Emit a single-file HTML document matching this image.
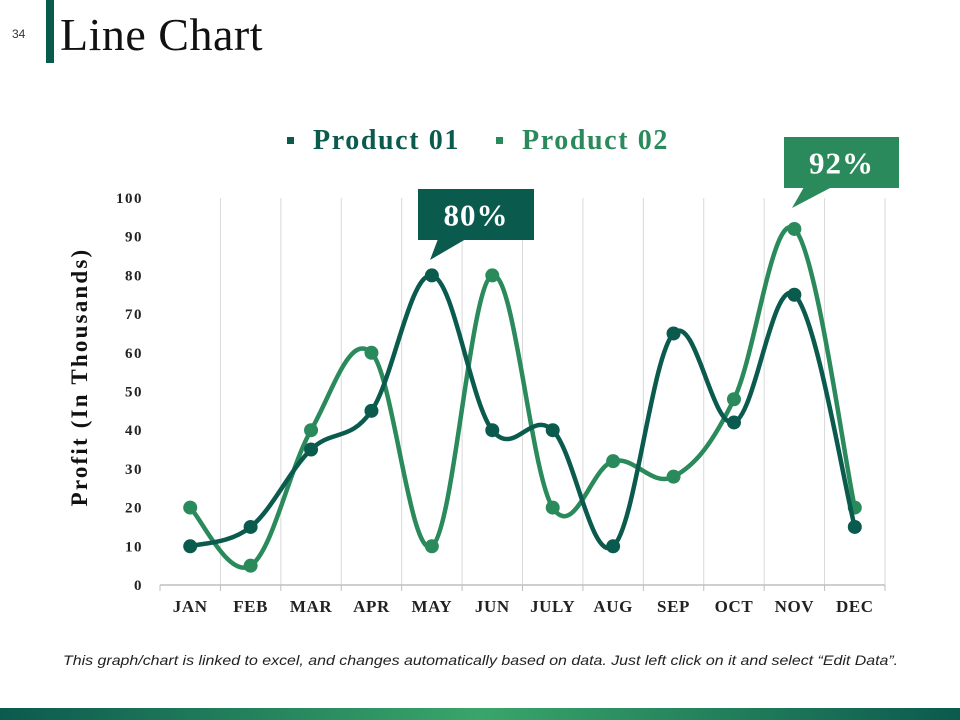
<!DOCTYPE html>
<html><head><meta charset="utf-8"><style>
body{margin:0;width:960px;height:720px;background:#fff;position:relative;overflow:hidden;font-family:"Liberation Serif",serif}
.abs{position:absolute}
</style></head><body>
<div class="abs" style="left:12px;top:27px;font:12px 'Liberation Sans',sans-serif;color:#333">34</div>
<div class="abs" style="left:46px;top:0;width:8px;height:63px;background:#0b5a4e"></div>
<div class="abs" style="left:60px;top:8px;font-size:46px;color:#111;letter-spacing:0.5px">Line Chart</div>
<div class="abs" style="left:63px;top:652px;font:italic 14px 'Liberation Sans',sans-serif;color:#222;white-space:nowrap;transform-origin:0 0;transform:scaleX(1.138)">This graph/chart is linked to excel, and changes automatically based on data. Just left click on it and select “Edit Data”.</div>
<div class="abs" style="left:0;top:708px;width:960px;height:12px;background:linear-gradient(90deg,#0b5a4e,#3aa56a 50%,#0b5a4e)"></div>
<svg id="chart" class="abs" style="left:0;top:0" width="960" height="720"></svg>
<script>
const categories=["JAN","FEB","MAR","APR","MAY","JUN","JULY","AUG","SEP","OCT","NOV","DEC"];
const product01=[10,15,35,45,80,40,40,10,65,42,75,15];
const product02=[20,5,40,60,10,80,20,32,28,48,92,20];
const yTicks=[0,10,20,30,40,50,60,70,80,90,100];
const C1="#0b5a4e",C2="#2a8a5c";
const svg=document.getElementById('chart');const NS="http://www.w3.org/2000/svg";
const L=160,R=885,T=198,B=585;
const bw=(R-L)/categories.length;
const x=i=>L+bw*(i+0.5);
const y=v=>B-(v/100)*(B-T);
function mk(t,a,p){const e=document.createElementNS(NS,t);for(const k in a)e.setAttribute(k,a[k]);(p||svg).appendChild(e);return e;}
for(let i=1;i<=categories.length;i++){const g=mk('line',{x1:L+bw*i,x2:L+bw*i,y1:T,y2:B,stroke:'#d9d9d9','stroke-width':1});

}
const ax=mk('line',{x1:L,x2:R,y1:B,y2:B,stroke:'#bfbfbf','stroke-width':1.5});


for(let i=0;i<=categories.length;i++){mk('line',{x1:L+bw*i,x2:L+bw*i,y1:B,y2:B+6,stroke:'#bfbfbf'});}
yTicks.forEach(v=>{const t=mk('text',{x:143,y:y(v)+5,'text-anchor':'end','font-size':15,'font-weight':'bold',fill:'#222','letter-spacing':1.5});t.textContent=v;

});
categories.forEach((c,i)=>{const t=mk('text',{x:x(i),y:612,'text-anchor':'middle','font-size':17,'font-weight':'bold',fill:'#222','letter-spacing':0.6});t.textContent=c;

});
const yt=mk('text',{x:0,y:0,transform:`translate(87,377) rotate(-90)`,'text-anchor':'middle','font-size':23,'font-weight':'bold',fill:'#111','letter-spacing':2.2});yt.textContent="Profit (In Thousands)";


function path(vals){const p=vals.map((v,i)=>[x(i),y(v)]);let d=`M${p[0][0]},${p[0][1]}`;const k=0.36;
for(let i=0;i<p.length-1;i++){const p0=p[i-1]||p[i],p1=p[i],p2=p[i+1],p3=p[i+2]||p2;
d+=` C${p1[0]+(p2[0]-p0[0])*k/2},${p1[1]+(p2[1]-p0[1])*k/2} ${p2[0]-(p3[0]-p1[0])*k/2},${p2[1]-(p3[1]-p1[1])*k/2} ${p2[0]},${p2[1]}`;}return d;}
[[product02,C2,'product-02'],[product01,C1,'product-01']].forEach(([vals,col,nm])=>{
const l=mk('path',{d:path(vals),fill:'none',stroke:col,'stroke-width':4.5});


vals.forEach((v,i)=>{const c=mk('circle',{cx:x(i),cy:y(v),r:7,fill:col});

});});
mk('rect',{x:287,y:137,width:7,height:7,fill:C1});
const l1=mk('text',{x:313,y:149,'font-size':28,'font-weight':'bold',fill:C1,'letter-spacing':1.6});l1.textContent="Product 01";


mk('rect',{x:496,y:137,width:7,height:7,fill:C2});
const l2=mk('text',{x:522,y:149,'font-size':28,'font-weight':'bold',fill:C2,'letter-spacing':1.6});l2.textContent="Product 02";


function callout(bx,by,w,h,tx,ty,col,label,nm){
const g=mk('g',{});


mk('rect',{x:bx,y:by,width:w,height:h,fill:col},g);
mk('polygon',{points:`${bx+20},${by+h-1} ${bx+48},${by+h-1} ${tx},${ty}`,fill:col},g);
const t=mk('text',{x:bx+w/2,y:by+h/2+11,'text-anchor':'middle','font-size':31,'font-weight':'bold',fill:'#fff','letter-spacing':1});t.textContent=label;}
callout(418,189,116,51,430,260,C1,"80%","callout-80");
callout(784,137,115,51,792,208,C2,"92%","callout-92");
</script>
</body></html>
